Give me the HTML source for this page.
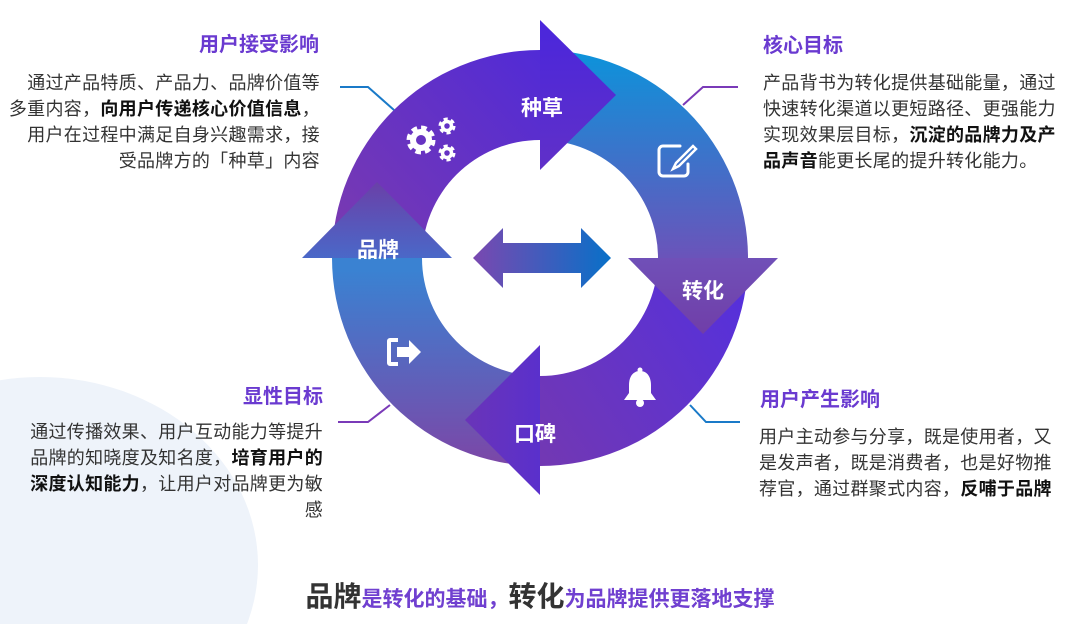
<!DOCTYPE html>
<html><head><meta charset="utf-8"><style>
body{margin:0;width:1080px;height:624px;overflow:hidden;background:#fff;position:relative;font-family:"Liberation Sans","Noto Sans CJK SC",sans-serif;}
.t{position:absolute;font-size:20px;font-weight:bold;color:#6a3ad0;line-height:24px;white-space:nowrap;}
.p{position:absolute;font-size:18px;letter-spacing:0.3px;color:#333;line-height:26px;white-space:nowrap;}
.p b{color:#111;}
.r{text-align:right;}
</style></head><body>
<svg width="1080" height="624" style="position:absolute;left:0;top:0">
<defs>
<linearGradient id="gT" gradientUnits="userSpaceOnUse" x1="340" y1="250" x2="560" y2="50"><stop offset="0" stop-color="#7a3ab0"/><stop offset="1" stop-color="#4f2ad8"/></linearGradient>
<linearGradient id="gR" gradientUnits="userSpaceOnUse" x1="0" y1="55" x2="0" y2="270"><stop offset="0" stop-color="#0e92da"/><stop offset="1" stop-color="#7050b8"/></linearGradient>
<linearGradient id="gB" gradientUnits="userSpaceOnUse" x1="740" y1="280" x2="460" y2="470"><stop offset="0" stop-color="#5530dc"/><stop offset="1" stop-color="#7a3aa8"/></linearGradient>
<linearGradient id="gL" gradientUnits="userSpaceOnUse" x1="0" y1="460" x2="0" y2="270"><stop offset="0" stop-color="#7a48a8"/><stop offset="1" stop-color="#3a82d2"/></linearGradient>
<linearGradient id="aT" gradientUnits="userSpaceOnUse" x1="0" y1="20" x2="0" y2="170"><stop offset="0" stop-color="#4a26dc"/><stop offset="1" stop-color="#6030c8"/></linearGradient>
<linearGradient id="aR" gradientUnits="userSpaceOnUse" x1="0" y1="258" x2="0" y2="334"><stop offset="0" stop-color="#7050b8"/><stop offset="1" stop-color="#703ea8"/></linearGradient>
<linearGradient id="aB" gradientUnits="userSpaceOnUse" x1="540" y1="0" x2="465" y2="0"><stop offset="0" stop-color="#5a30cc"/><stop offset="1" stop-color="#6a34b8"/></linearGradient>
<linearGradient id="aL" gradientUnits="userSpaceOnUse" x1="0" y1="182" x2="0" y2="258"><stop offset="0" stop-color="#6a40a8"/><stop offset="1" stop-color="#4a68c8"/></linearGradient>
<linearGradient id="gC" gradientUnits="userSpaceOnUse" x1="473" y1="0" x2="611" y2="0"><stop offset="0" stop-color="#7a48b0"/><stop offset="1" stop-color="#0870c8"/></linearGradient>
</defs>
<ellipse cx="40" cy="565" rx="218" ry="188" fill="#eef3fa"/>
<path d="M332,258 A208,208 0 0 1 540,50 L540,140 A118,118 0 0 0 422,258 Z" fill="url(#gT)"/>
<path d="M540,50 A208,208 0 0 1 748,258 L658,258 A118,118 0 0 0 540,140 Z" fill="url(#gR)"/>
<path d="M748,258 A208,208 0 0 1 540,466 L540,376 A118,118 0 0 0 658,258 Z" fill="url(#gB)"/>
<path d="M540,466 A208,208 0 0 1 332,258 L422,258 A118,118 0 0 0 540,376 Z" fill="url(#gL)"/>
<polygon points="540,20 616,95 540,170" fill="url(#aT)"/>
<polygon points="628,258 778,258 703,334" fill="url(#aR)"/>
<polygon points="540,345 540,495 465,420" fill="url(#aB)"/>
<polygon points="302,258 452,258 377,182" fill="url(#aL)"/>
<polygon points="473,258 503,228 503,243 581,243 581,228 611,258 581,288 581,273 503,273 503,288" fill="url(#gC)"/>
<g fill="none" stroke-width="2">
<polyline points="340,87 368,87 394,110" stroke="#1a7ac8"/>
<polyline points="738,87 703,87 683,105" stroke="#7a3ab8"/>
<polyline points="690,405 706,422 740,422" stroke="#1a7ac8"/>
<polyline points="338,422 368,422 390,405" stroke="#7a3ab8"/>
</g>
<g fill="#fff" font-weight="bold" font-size="21" text-anchor="middle" font-family="Liberation Sans,Noto Sans CJK SC,sans-serif">
<text x="542" y="115">种草</text><text x="703" y="298">转化</text><text x="535" y="441">口碑</text><text x="378" y="257">品牌</text>
</g>
<g fill="none" stroke="#fff">
<circle cx="421" cy="140" r="11" stroke-width="7" stroke-dasharray="5 3.6"/>
<circle cx="421" cy="140" r="8" stroke-width="6"/>
<circle cx="447" cy="126" r="6" stroke-width="5" stroke-dasharray="3.5 2.8"/>
<circle cx="447" cy="126" r="4.5" stroke-width="3.5"/>
<circle cx="447" cy="153" r="6" stroke-width="5" stroke-dasharray="3.5 2.8"/>
<circle cx="447" cy="153" r="4.5" stroke-width="3.5"/>
</g>
<g fill="none" stroke="#fff" stroke-width="3" stroke-linecap="round">
<path d="M680,146 H663 a4,4 0 0 0 -4,4 V172 a4,4 0 0 0 4,4 H684 a4,4 0 0 0 4,-4 V164"/>
<path d="M693,146 L676,163 L673,169 L679,166 L696,149 Z" stroke-width="2.5"/>
</g>
<g fill="#fff">
<path d="M398,338 h-8 a3,3 0 0 0 -3,3 v22 a3,3 0 0 0 3,3 h8 v-4 h-7 v-20 h7 z"/>
<polygon points="397,347 409,347 409,340 421,352 409,364 409,357 397,357"/>
</g>
<g fill="#fff">
<path d="M640,371 c-8,0 -11,7 -11,14 v8 l-5,7 h32 l-5,-7 v-8 c0,-7 -3,-14 -11,-14 z"/>
<circle cx="640" cy="370" r="2.5"/>
<circle cx="640" cy="403" r="4"/>
</g>
</svg>
<div class="t r" style="right:761px;top:33px">用户接受影响</div>
<div class="p r" style="right:760px;top:70px">通过产品特质、产品力、品牌价值等<br>多重内容，<b>向用户传递核心价值信息</b>，<br>用户在过程中满足自身兴趣需求，接<br>受品牌方的「种草」内容</div>
<div class="t" style="left:763px;top:34px">核心目标</div>
<div class="p" style="left:763px;top:70px">产品背书为转化提供基础能量，通过<br>快速转化渠道以更短路径、更强能力<br>实现效果层目标，<b>沉淀的品牌力及产<br>品声音</b>能更长尾的提升转化能力。</div>
<div class="t r" style="right:757px;top:385px">显性目标</div>
<div class="p r" style="right:757px;top:419px">通过传播效果、用户互动能力等提升<br>品牌的知晓度及知名度，<b>培育用户的</b><br><b>深度认知能力</b>，让用户对品牌更为敏<br>感</div>
<div class="t" style="left:760px;top:388px">用户产生影响</div>
<div class="p" style="left:759px;top:424px">用户主动参与分享，既是使用者，又<br>是发声者，既是消费者，也是好物推<br>荐官，通过群聚式内容，<b>反哺于品牌</b></div>
<div style="position:absolute;left:0;width:1080px;text-align:center;top:581px;font-weight:bold;color:#7040d0;font-size:21px;line-height:32px;white-space:nowrap"><span style="font-size:28px;color:#333">品牌</span>是转化的基础，<span style="font-size:28px;color:#333">转化</span>为品牌提供更落地支撑</div>
</body></html>
